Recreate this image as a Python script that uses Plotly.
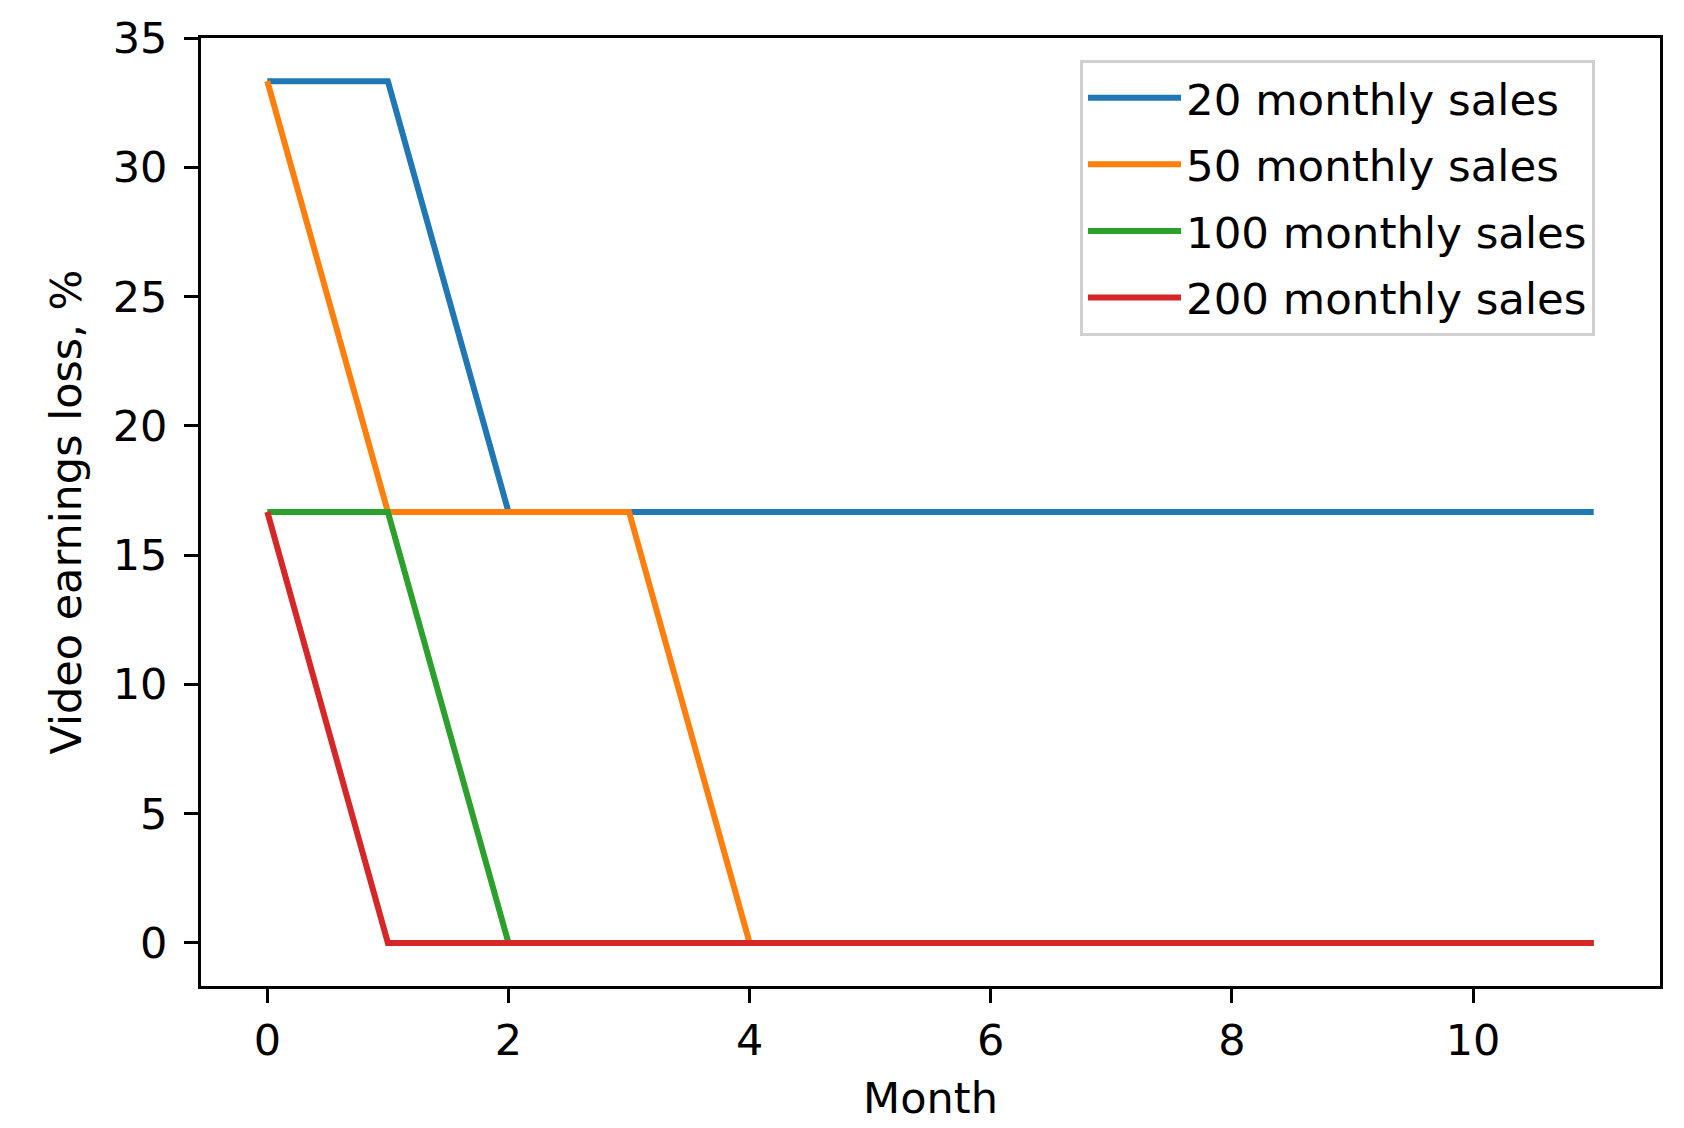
import plotly.graph_objects as go

months = list(range(12))
sales_20 = [33.33, 33.33, 16.67, 16.67, 16.67, 16.67, 16.67, 16.67, 16.67, 16.67, 16.67, 16.67]
sales_50 = [33.33, 16.67, 16.67, 16.67, 0, 0, 0, 0, 0, 0, 0, 0]
sales_100 = [16.67, 16.67, 0, 0, 0, 0, 0, 0, 0, 0, 0, 0]
sales_200 = [16.67, 0, 0, 0, 0, 0, 0, 0, 0, 0, 0, 0]
names = ["20 monthly sales", "50 monthly sales", "100 monthly sales", "200 monthly sales"]
colors = ["#1f77b4", "#ff7f0e", "#2ca02c", "#d62728"]
series = [sales_20, sales_50, sales_100, sales_200]
x_ticks = [0, 2, 4, 6, 8, 10]
y_ticks = [0, 5, 10, 15, 20, 25, 30, 35]

FONT = "DejaVu Sans"
W, H = 1684, 1128
L, R, T, B = 193, 32, 30, 150

fig = go.Figure()
for i, (ys, nm, c) in enumerate(zip(series, names, colors)):
    fig.add_trace(go.Scatter(x=months, y=ys, mode="lines", name=nm,
                             line=dict(color=c, width=6),
                             legendgroup=f"g{i}"))

axis_common = dict(
    showline=True, linecolor="black", linewidth=3, mirror=True,
    ticks="outside", ticklen=14, tickwidth=3, tickcolor="black",
    showgrid=False, zeroline=False,
    tickfont=dict(family=FONT, size=43, color="black"),
)

fig.update_xaxes(range=[-0.55, 11.55], tickvals=x_ticks,
                 title=dict(text="Month", font=dict(family=FONT, size=43, color="black"), standoff=20),
                 ticklabelstandoff=0, **axis_common)
fig.update_yaxes(range=[-1.667, 35.0], tickvals=y_ticks,
                 title=dict(text="Video earnings loss, %", font=dict(family=FONT, size=43, color="black"), standoff=18),
                 ticklabelstandoff=8, **axis_common)

fig.update_layout(
    width=W, height=H,
    margin=dict(l=L, r=R, t=T, b=B, autoexpand=False),
    paper_bgcolor="white", plot_bgcolor="white",
    font=dict(family=FONT, size=43, color="black"),
    showlegend=True,
    legend=dict(
        x=(1072 - L) / (W - L - R), y=(H - B - 52) / (H - T - B),
        xanchor="left", yanchor="top",
        bgcolor="rgba(255,255,255,0.8)", bordercolor="#d0d0d0", borderwidth=3,
        font=dict(family=FONT, size=43.5, color="black"),
        itemwidth=93, tracegroupgap=7, traceorder="grouped",
    ),
)

fig.write_html("out.html")
